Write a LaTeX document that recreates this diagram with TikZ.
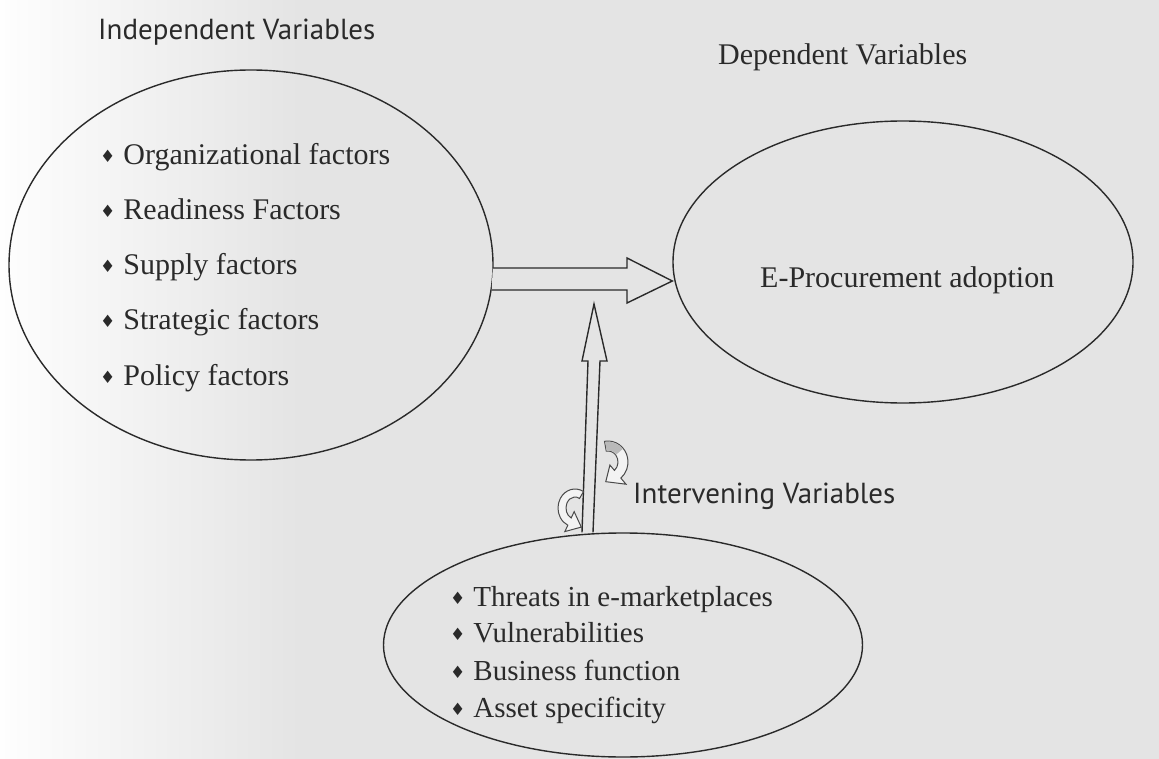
\documentclass[tikz,border=0pt]{standalone}
\usepackage{fontspec}
\setmainfont{Liberation Serif}
\newfontfamily\hdfont{PT Sans}
\newfontfamily\symfont{DejaVu Sans}
\usetikzlibrary{shapes.geometric,calc}
\definecolor{bg}{HTML}{E4E4E4}
\definecolor{ink}{HTML}{2A2A2A}
\newcommand\dia{\raisebox{2pt}{\symfont\fontsize{17}{17}\selectfont ♦}\hspace{8pt}}
\begin{document}
\begin{tikzpicture}[x=1pt,y=-1pt,
  oval/.style={ellipse, draw=ink, line width=1.4pt, inner sep=0pt},
  item/.style={anchor=base west, inner sep=0pt, text=ink, font=\fontsize{30}{36}\selectfont},
  itemb/.style={anchor=base west, inner sep=0pt, text=ink, font=\fontsize{29}{34}\selectfont},
  hd/.style={anchor=base west, inner sep=0pt, text=ink, font=\hdfont\fontsize{29}{34}\selectfont},
  blockarrow/.style={draw=ink, line width=1.4pt, fill=bg, line join=miter},
  curl/.style={draw=ink!85, line width=1pt, fill=bg!45!white},
  curlshade/.style={fill=gray!55}]
\useasboundingbox (0,0) rectangle (1159,759);
\fill[bg] (0,0) rectangle (1159,759);
\shade[left color=white!96!bg, right color=bg] (0,0) rectangle (300,759);

% ellipses
\node[oval, minimum width=484pt, minimum height=390pt] (L) at (251,265) {};
\node[oval, minimum width=460pt, minimum height=282pt] (R) at (903,262) {};
\node[oval, minimum width=479pt, minimum height=224pt] (B) at (623,645) {};

% headings
\node[hd] (hI) at (98,40) {Independent Variables};
\node[item] (hD) at (718,65) {Dependent Variables};
\node[hd] (hV) at (633,503) {Intervening Variables};

% left list
\node[item] (l1) at (100,165) {\dia Organizational factors};
\node[item] (l2) at (100,220) {\dia Readiness Factors};
\node[item] (l3) at (100,275) {\dia Supply factors};
\node[item] (l4) at (100,330) {\dia Strategic factors};
\node[item] (l5) at (100,385) {\dia Policy factors};

% right text
\node[item] (ep) at (760,288) {E-Procurement adoption};

% bottom list
\node[itemb] (b1) at (450,606) {\dia Threats in e-marketplaces};
\node[itemb] (b2) at (450,642) {\dia Vulnerabilities};
\node[itemb] (b3) at (450,680) {\dia Business function};
\node[itemb] (b4) at (450,717) {\dia Asset specificity};

% horizontal block arrow L -> R
\coordinate (hT) at ($(R.west)+(0,19)$);
\draw[blockarrow] ($(L.east)+(-1,3)$) -- (627,268) -- (627,258) -- (hT) -- (627,303) -- (627,290) -- ($(L.east)+(-2,25)$);

% vertical block arrow B -> horizontal arrow
\coordinate (vT) at (594,304);
\draw[blockarrow] ($(B.north)+(-41,0)$) -- (588,361) -- (582,361) -- (vT) -- (607,361) -- (600,361) -- ($(B.north)+(-30,0)$);

% curved arrows
\coordinate (c1) at (608,462);
\filldraw[curl] ($(c1)+({20*cos(-100)},{21*sin(-100)})$) arc[start angle=-100,end angle=50,x radius=20,y radius=21]
  -- ($(c1)+({28*cos(50)},{29*sin(50)})$) -- ($(c1)+({15*cos(50)},{16*sin(50)})+(148:14)$)
  -- ($(c1)+({3*cos(50)},{4*sin(50)})$) -- ($(c1)+({10*cos(50)},{11*sin(50)})$)
  arc[start angle=50,end angle=-100,x radius=10,y radius=11] -- cycle;
\fill[curlshade] ($(c1)+({19.4*cos(-98)},{20.4*sin(-98)})$) arc[start angle=-98,end angle=-40,x radius=19.4,y radius=20.4]
  -- ($(c1)+({10.6*cos(-40)},{11.6*sin(-40)})$) arc[start angle=-40,end angle=-98,x radius=10.6,y radius=11.6] -- cycle;

\coordinate (c2) at (575,508);
\filldraw[curl] ($(c2)+({17*cos(-60)},{19*sin(-60)})$) arc[start angle=-60,end angle=-245,x radius=17,y radius=19]
  -- ($(c2)+({24*cos(115)},{26*sin(115)})$) -- ($(c2)+({13*cos(115)},{15*sin(115)})+(25:13)$)
  -- ($(c2)+({2*cos(115)},{4*sin(115)})$) -- ($(c2)+({9*cos(115)},{11*sin(115)})$)
  arc[start angle=-245,end angle=-60,x radius=9,y radius=11] -- cycle;
\end{tikzpicture}
\end{document}
